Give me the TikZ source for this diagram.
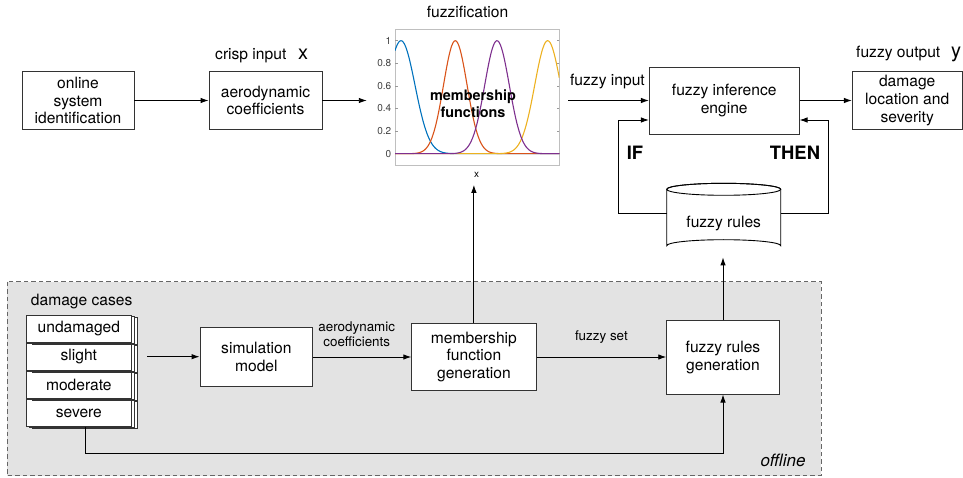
\documentclass[tikz,border=0pt]{standalone}
\usepackage{fontspec}
\setmainfont{TeX Gyre Heros}
\usetikzlibrary{arrows.meta,shadows,calc}

\definecolor{mlblue}{rgb}{0,0.447,0.741}
\definecolor{mlorange}{rgb}{0.85,0.325,0.098}
\definecolor{mlyellow}{rgb}{0.929,0.694,0.125}
\definecolor{mlpurple}{rgb}{0.494,0.184,0.556}
\definecolor{offlinebg}{HTML}{E3E3E3}
\definecolor{edgegray}{HTML}{333333}

\newcommand\mynodefont{\fontsize{15.6}{17.7}\selectfont}
\newcommand\mylabelfont{\fontsize{13.4}{15.3}\selectfont}
\newcommand\mybigfont{\fontsize{20}{22}\selectfont}

\tikzset{
  box/.style={draw=edgegray, fill=white, line width=0.9pt, align=center,
              inner sep=0pt, font=\mynodefont},
  casebox/.style={box, minimum width=105.7pt, minimum height=26.5pt,
              double copy shadow={shadow xshift=3pt, shadow yshift=-1pt}},
  ln/.style={line width=0.9pt, draw=black},
  arr/.style={ln, -{Latex[length=8pt,width=5.5pt]}},
  elabel/.style={font=\mylabelfont, align=center, inner sep=0pt},
  plain/.style={font=\mynodefont, inner sep=0pt},
  curve/.style={line width=1.1pt},
}

\begin{document}
\begin{tikzpicture}[x=1pt,y=-1pt]
\useasboundingbox (0,0) rectangle (963,478);

% offline region
\draw[fill=offlinebg, draw=black!60, line width=0.9pt, dash pattern=on 4.5pt off 3pt]
  (7,281.5) rectangle (821,475.7);
\node[font=\fontsize{17}{19}\selectfont\itshape, anchor=east, inner sep=0pt] (offl) at (805.7,460) {offline};

% ---------- upper row ----------
\node[box, minimum width=112pt, minimum height=58pt] (online) at (78,100.5)
  {online\\system\\identification};
\node[box, minimum width=113pt, minimum height=58pt] (aero) at (265.5,100.5)
  {aerodynamic\\coefficients};
\node[plain, anchor=base west] (crisp) at (215,60) {crisp input};
\node[font=\mybigfont, inner sep=0pt, anchor=base west] (xsym) at (298,60) {x};

% membership function plot
\node[inner sep=0pt, minimum width=201pt, minimum height=159.3pt] (fuzzif) at (467.5,105) {};
\node[plain] (fuzzlbl) at (467.5,11.7) {fuzzification};
\draw[draw=black!25, line width=0.7pt] (395,29) rectangle (559.3,165);
\foreach \v/\t in {0/0,0.2/0.2,0.4/0.4,0.6/0.6,0.8/0.8,1/1}{
  \draw[black!40, line width=0.5pt] (395,{153.7-113*\v}) -- ++(2.5,0);
  \draw[black!40, line width=0.5pt] (559.3,{153.7-113*\v}) -- ++(-2.5,0);
  \node[font=\fontsize{10}{11}\selectfont, text=black!75, anchor=east, inner sep=0pt]
    at (391.5,{153.7-113*\v}) {\t};
}
\begin{scope}
\clip (395,29) rectangle (559.3,165);
\draw[curve, mlblue] plot[domain=395:559.3, samples=140, smooth]
  (\x,{153.7-113*exp(-0.5*min(((\x-401)/14)^2,30))});
\draw[curve, mlorange] plot[domain=395:559.3, samples=140, smooth]
  (\x,{153.7-113*exp(-0.5*min(((\x-455.3)/11.8)^2,30))});
\draw[curve, mlyellow] plot[domain=395:559.3, samples=140, smooth]
  (\x,{153.7-113*exp(-0.5*min(((\x-547.7)/13)^2,30))});
\draw[curve, mlpurple] plot[domain=395:559.3, samples=140, smooth]
  (\x,{153.7-113*exp(-0.5*min(((\x-497)/12.3)^2,30))});
\end{scope}
\node[font=\fontsize{14.4}{17}\selectfont\bfseries, align=center, inner sep=0pt]
  (mflbl) at (473,103.5) {membership\\functions};
\node[font=\fontsize{10}{11}\selectfont, inner sep=0pt] (xaxis) at (476.7,175) {x};

\node[box, minimum width=149.7pt, minimum height=67pt] (engine) at (724.2,100.5)
  {fuzzy inference\\engine};
\node[plain, anchor=base east] (fin) at (645,86) {fuzzy input};

\node[box, minimum width=109.7pt, minimum height=58.3pt] (damage) at (907.2,100.5)
  {damage\\location and\\severity};
\node[plain, anchor=base west] (fout) at (856,58) {fuzzy output};
\node[font=\mybigfont, inner sep=0pt, anchor=base west] (ysym) at (951,58) {y};

\node[font=\fontsize{18.4}{20}\selectfont\bfseries, inner sep=0pt] (iflbl) at (635,153) {IF};
\node[font=\fontsize{18.4}{20}\selectfont\bfseries, inner sep=0pt] (thenlbl) at (795,153) {THEN};

% fuzzy rules database (cylinder)
\draw[ln, fill=white] (666.7,189.3) -- (666.7,245.7)
  arc[start angle=180, end angle=360, x radius=57, y radius=6]
  -- (780.7,189.3)
  arc[start angle=0, end angle=-180, x radius=57, y radius=6] -- cycle;
\draw[ln] (723.7,189.3) ellipse[x radius=57, y radius=6];
\node[inner sep=0pt, minimum width=114pt, minimum height=68.4pt] (rules) at (723.7,217.5) {};
\node[plain] (ruleslbl) at ([yshift=-5.8pt]rules.center) {fuzzy rules};

% ---------- offline row ----------
\node[plain] (cases) at (81.7,301.7) {damage cases};
\node[casebox] (severe) at (78.85,413) {severe};
\node[casebox] (moder) at (78.85,385) {moderate};
\node[casebox] (slight) at (78.85,356.7) {slight};
\node[casebox] (undam) at (78.85,328.9) {undamaged};

\node[box, minimum width=112.7pt, minimum height=58.3pt] (sim) at (256.35,356.9)
  {simulation\\model};
\node[box, minimum width=124.3pt, minimum height=67.4pt] (mfg) at (473.9,357)
  {membership\\function\\generation};
\node[box, minimum width=112.6pt, minimum height=73.3pt] (frg) at (723,357.4)
  {fuzzy rules\\generation};

% ---------- connectors ----------
\draw[arr] (online.east) -- (online.east -| aero.west);
\draw[arr] (aero.east) -- (aero.east -| fuzzif.west);
\draw[arr] (fuzzif.east |- engine.west) -- (engine.west);
\draw[arr] (engine.east) -- (engine.east -| damage.west);
\draw[arr] ([yshift=4pt]rules.west) -- ++(-48.4,0) |- ([yshift=-19.5pt]engine.west);
\draw[arr] ([yshift=4pt]rules.east) -- ++(47.6,0) |- ([yshift=-19.5pt]engine.east);

\draw[arr] ([xshift=15pt]slight.east) -- (slight.east -| sim.west);
\draw[arr] (sim.east |- mfg.west) -- node[elabel, above=10pt, xshift=-5.5pt]
  {aerodynamic\\coefficients} (mfg.west);
\draw[arr] (mfg.east) -- node[elabel, above=13pt] {fuzzy set} (mfg.east -| frg.west);
\draw[arr] (mfg.north) -- (mfg.north |- fuzzif.south);
\draw[arr, shorten >=5.5pt] (frg.north) -- (frg.north |- rules.south);
\draw[arr] ([xshift=7pt]severe.south) -- ++(0,26.7) -| (frg.south);

\end{tikzpicture}
\end{document}
